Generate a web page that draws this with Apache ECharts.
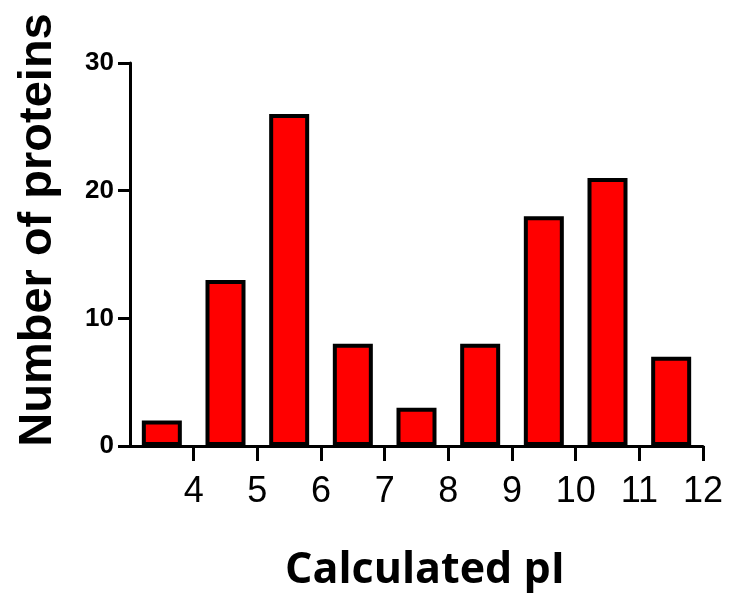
<!DOCTYPE html>
<html>
<head>
<meta charset="utf-8">
<script src="https://cdn.jsdelivr.net/npm/echarts@6/dist/echarts.min.js"></script>
<style>html,body{margin:0;padding:0;background:#fff}#c{width:748px;height:614px}</style>
</head>
<body>
<div id="c"></div>
<script>
// pI bin centres and counts
var binCenters = [3.5, 4.5, 5.5, 6.5, 7.5, 8.5, 9.5, 10.5, 11.5];
var counts = [2, 13, 26, 8, 3, 8, 18, 21, 7];
var xTicks = [4, 5, 6, 7, 8, 9, 10, 11, 12];
var yTicks = [0, 10, 20, 30];

var chart = echarts.init(document.getElementById('c'), null, {renderer: 'canvas'});
var data = binCenters.map(function (c, i) { return [c, counts[i]]; });
chart.setOption({
  animation: false,
  backgroundColor: '#ffffff',
  grid: {left: 130, right: 45, top: 63, bottom: 168, containLabel: false, outerBoundsMode: 'none'},
  xAxis: {
    type: 'value', min: 3, max: 12, interval: 1,
    name: 'Calculated pI', nameLocation: 'middle', nameGap: 103,
    nameTextStyle: {fontFamily: 'Open Sans', fontWeight: 'bold', fontSize: 43, color: '#000', padding: [0, 0, 0, 17]},
    axisLine: {show: true, lineStyle: {color: '#000', width: 3}},
    axisTick: {show: true, length: 15, lineStyle: {color: '#000', width: 3}, customValues: xTicks},
    axisLabel: {customValues: xTicks, margin: 28, fontFamily: 'Liberation Sans', fontSize: 36, color: '#000'},
    splitLine: {show: false}
  },
  yAxis: {
    type: 'value', min: 0, max: 30, interval: 10,
    name: 'Number of proteins', nameLocation: 'middle', nameGap: 68, nameRotate: 90,
    nameTextStyle: {fontFamily: 'Liberation Sans', fontWeight: 'bold', fontSize: 47, color: '#000', padding: [0, 0, 0, 49]},
    axisLine: {show: true, lineStyle: {color: '#000', width: 3}},
    axisTick: {show: true, length: 12, lineStyle: {color: '#000', width: 3}, customValues: yTicks},
    axisLabel: {customValues: yTicks, margin: 16, fontFamily: 'Liberation Sans', fontWeight: 'bold', fontSize: 26, color: '#000'},
    splitLine: {show: false}
  },
  series: [{
    type: 'bar',
    data: data,
    barWidth: 40,
    itemStyle: {color: '#ff0000', borderColor: '#000', borderWidth: 4}
  }]
});
</script>
</body>
</html>
